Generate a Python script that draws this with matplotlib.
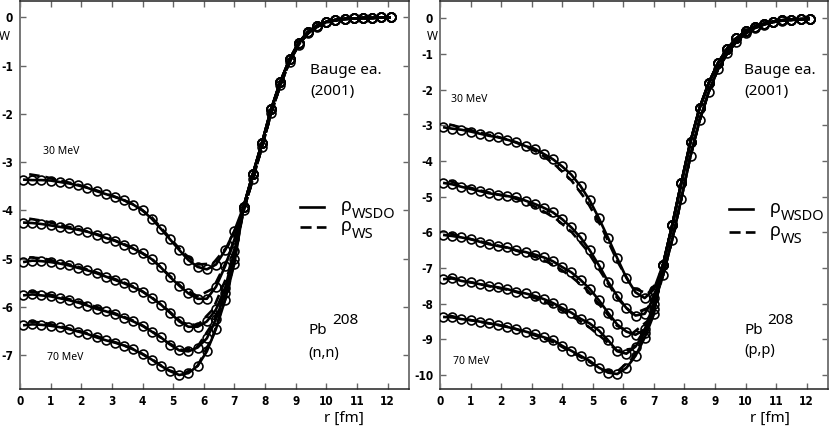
import matplotlib
matplotlib.use("Agg")
import matplotlib.pyplot as plt

plt.rcParams['axes.unicode_minus'] = False
plt.rcParams['font.family'] = ['Noto Sans', 'DejaVu Sans']

# ---------------- data ----------------
r_pts = [0.1, 0.4, 0.7, 1.0, 1.3, 1.6, 1.9, 2.2, 2.5, 2.8, 3.1, 3.4, 3.7, 4.0,
         4.3, 4.6, 4.9, 5.2, 5.5, 5.8, 6.1, 6.4, 6.7, 7.0]
r_tail = [7.3, 7.6, 7.9, 8.2, 8.5, 8.8, 9.1, 9.4, 9.7, 10.0, 10.3, 10.6, 10.9,
          11.2, 11.5, 11.8, 12.1]
r_dash = [0.3, 0.8, 1.3, 1.8, 2.3, 2.8, 3.3, 3.8, 4.3, 4.8, 5.3, 5.8, 6.3, 6.8]

# (n,n) rho_WSDO (solid line + circles), energies 30..70 MeV
W_nn_30 = [-3.36, -3.37, -3.37, -3.38, -3.41, -3.44, -3.48, -3.53, -3.60, -3.66, -3.72, -3.79,
           -3.88, -4.00, -4.17, -4.38, -4.60, -4.82, -5.03, -5.17, -5.22, -5.12, -4.82, -4.42]
W_nn_40 = [-4.25, -4.26, -4.28, -4.31, -4.34, -4.37, -4.40, -4.44, -4.50, -4.57, -4.63, -4.71,
           -4.79, -4.89, -5.01, -5.18, -5.38, -5.56, -5.72, -5.83, -5.83, -5.58, -5.15, -4.60]
W_nn_50 = [-5.07, -5.04, -5.05, -5.07, -5.10, -5.14, -5.19, -5.24, -5.30, -5.37, -5.44, -5.51,
           -5.59, -5.68, -5.81, -5.95, -6.12, -6.30, -6.41, -6.41, -6.30, -6.05, -5.60, -4.85]
W_nn_60 = [-5.76, -5.74, -5.76, -5.78, -5.82, -5.86, -5.91, -5.97, -6.04, -6.09, -6.15, -6.22,
           -6.30, -6.39, -6.51, -6.63, -6.78, -6.90, -6.92, -6.84, -6.65, -6.25, -5.70, -5.00]
W_nn_70 = [-6.38, -6.36, -6.37, -6.39, -6.42, -6.46, -6.51, -6.56, -6.63, -6.69, -6.74, -6.80,
           -6.88, -6.98, -7.09, -7.22, -7.33, -7.41, -7.37, -7.22, -6.92, -6.45, -5.85, -5.10]
W_nn_tail = [-3.92, -3.25, -2.60, -1.90, -1.33, -0.87, -0.52, -0.30, -0.17, -0.09, -0.05,
             -0.03, -0.02, -0.01, -0.01, 0.0, 0.0]
# (n,n) rho_WS (dashed)
Wd_nn_30 = [-3.25, -3.30, -3.38, -3.45, -3.54, -3.65, -3.76, -3.90, -4.14, -4.50, -4.86, -5.12, -5.10, -4.72]
Wd_nn_40 = [-4.17, -4.22, -4.30, -4.37, -4.45, -4.55, -4.67, -4.81, -5.00, -5.30, -5.60, -5.78, -5.62, -4.98]
Wd_nn_50 = [-4.97, -5.00, -5.07, -5.15, -5.24, -5.35, -5.47, -5.60, -5.80, -6.05, -6.33, -6.38, -6.05, -5.30]
Wd_nn_60 = [-5.68, -5.72, -5.79, -5.87, -5.96, -6.06, -6.18, -6.31, -6.50, -6.73, -6.90, -6.82, -6.33, -5.50]
Wd_nn_70 = [-6.30, -6.33, -6.40, -6.48, -6.56, -6.67, -6.77, -6.90, -7.08, -7.30, -7.40, -7.22, -6.60, -5.65]
Wd_nn_tail = [-4.00, -3.35, -2.68, -1.98, -1.40, -0.92, -0.56, -0.33, -0.19, -0.10, -0.06,
              -0.03, -0.02, -0.01, -0.01, 0.0, 0.0]

# (p,p) rho_WSDO
W_pp_30 = [-3.05, -3.09, -3.12, -3.17, -3.23, -3.29, -3.33, -3.40, -3.47, -3.58, -3.65, -3.80,
           -3.95, -4.15, -4.38, -4.70, -5.10, -5.60, -6.15, -6.72, -7.27, -7.68, -7.84, -7.60]
W_pp_40 = [-4.61, -4.65, -4.72, -4.78, -4.84, -4.90, -4.94, -4.98, -5.02, -5.11, -5.20, -5.31,
           -5.44, -5.63, -5.86, -6.14, -6.50, -6.92, -7.38, -7.78, -8.12, -8.33, -8.28, -7.85]
W_pp_50 = [-6.07, -6.10, -6.14, -6.19, -6.26, -6.33, -6.38, -6.42, -6.50, -6.55, -6.62, -6.70,
           -6.81, -6.97, -7.12, -7.33, -7.58, -7.90, -8.25, -8.58, -8.78, -8.87, -8.72, -8.00]
W_pp_60 = [-7.31, -7.29, -7.36, -7.40, -7.45, -7.50, -7.54, -7.59, -7.66, -7.71, -7.78, -7.87,
           -7.98, -8.12, -8.25, -8.42, -8.55, -8.75, -9.02, -9.33, -9.40, -9.20, -8.82, -8.15]
W_pp_70 = [-8.37, -8.38, -8.43, -8.46, -8.50, -8.55, -8.59, -8.65, -8.71, -8.78, -8.85, -8.94,
           -9.02, -9.18, -9.32, -9.46, -9.60, -9.79, -9.93, -9.97, -9.80, -9.46, -8.95, -8.30]
W_pp_tail = [-6.90, -5.80, -4.60, -3.45, -2.50, -1.80, -1.25, -0.85, -0.56, -0.36, -0.23,
             -0.15, -0.09, -0.05, -0.03, -0.02, -0.01]
# (p,p) rho_WS
Wd_pp_30 = [-2.97, -3.08, -3.20, -3.30, -3.42, -3.58, -3.80, -4.13, -4.54, -5.11, -5.87, -6.80, -7.55, -7.72]
Wd_pp_40 = [-4.55, -4.70, -4.82, -4.92, -5.00, -5.15, -5.36, -5.62, -5.98, -6.49, -7.16, -7.84, -8.29, -8.12]
Wd_pp_50 = [-6.02, -6.14, -6.25, -6.35, -6.45, -6.60, -6.74, -6.95, -7.24, -7.60, -8.11, -8.62, -8.83, -8.48]
Wd_pp_60 = [-7.25, -7.36, -7.45, -7.54, -7.62, -7.75, -7.90, -8.09, -8.34, -8.60, -8.95, -9.32, -9.26, -8.60]
Wd_pp_70 = [-8.33, -8.43, -8.50, -8.58, -8.66, -8.80, -8.94, -9.11, -9.36, -9.58, -9.85, -9.90, -9.53, -8.72]
Wd_pp_tail = [-7.20, -6.20, -5.05, -3.85, -2.85, -2.05, -1.42, -0.98, -0.65, -0.42, -0.27,
              -0.17, -0.10, -0.06, -0.04, -0.02, -0.01]

x_ticks = [0, 1, 2, 3, 4, 5, 6, 7, 8, 9, 10, 11, 12]
y_ticks_nn = [0, -1, -2, -3, -4, -5, -6, -7]
y_ticks_pp = [0, -1, -2, -3, -4, -5, -6, -7, -8, -9, -10]

# ---------------- figure ----------------
W, H = 830, 428
fig = plt.figure(figsize=(W / 100, H / 100), dpi=100)


def fx(px):
    return px / W


def fy(py):
    return 1 - py / H


ax1 = fig.add_axes([fx(20), fy(389), fx(409) - fx(20), fy(0.5) - fy(389)])
ax2 = fig.add_axes([fx(440), fy(389), fx(828) - fx(440), fy(0.5) - fy(389)])

tick_font = dict(family='DejaVu Sans', stretch='condensed', size=8.5, weight='bold')


def draw(ax, solids, dashes, tail, dtail, ylim, yticks):
    for ws, wd in zip(solids, dashes):
        ax.plot(r_pts + r_tail, ws + tail, '-', color='black', lw=1.9, zorder=3,
                solid_capstyle='butt')
        ax.plot(r_dash + r_tail, wd + dtail, '--', color='black', lw=1.9,
                dashes=(4.0, 2.2), zorder=3)
        ax.plot(r_pts + r_tail, ws + tail, 'o', mfc='none', mec='black', ms=6.4,
                mew=1.2, zorder=4)
    ax.plot(r_tail, dtail, 'o', mfc='none', mec='black', ms=6.4, mew=1.2, zorder=4)
    ax.set_xlim(0, 12.7)
    ax.set_ylim(*ylim)
    ax.set_xticks(x_ticks)
    ax.set_yticks(yticks)
    ax.set_xticklabels([str(t) for t in x_ticks], fontdict=tick_font)
    ax.set_yticklabels([str(t) for t in yticks], fontdict=tick_font)
    ax.tick_params(direction='in', length=4, width=1.0, color='#666666',
                   top=True, right=True, pad=4)
    ax.tick_params(axis='y', pad=5)
    for s in ('left', 'right'):
        ax.spines[s].set_color('#777777')
        ax.spines[s].set_linewidth(1.4)
    for s in ('top', 'bottom'):
        ax.spines[s].set_color('#222222')
        ax.spines[s].set_linewidth(1.1)


draw(ax1, [W_nn_30, W_nn_40, W_nn_50, W_nn_60, W_nn_70],
     [Wd_nn_30, Wd_nn_40, Wd_nn_50, Wd_nn_60, Wd_nn_70],
     W_nn_tail, Wd_nn_tail, (-7.70, 0.352), y_ticks_nn)
draw(ax2, [W_pp_30, W_pp_40, W_pp_50, W_pp_60, W_pp_70],
     [Wd_pp_30, Wd_pp_40, Wd_pp_50, Wd_pp_60, Wd_pp_70],
     W_pp_tail, Wd_pp_tail, (-10.39, 0.504), y_ticks_pp)

# ---------------- annotations ----------------
lab = dict(color='black', family='Noto Sans')

fig.text(fx(4), fy(37), 'W', ha='center', va='center', size=8.5, **lab)
fig.text(fx(432), fy(37), 'W', ha='center', va='center', size=8.5, **lab)

fig.text(fx(310), fy(70), 'Bauge ea.', ha='left', va='center', size=11, **lab)
fig.text(fx(310), fy(91), '(2001)', ha='left', va='center', size=11, **lab)
fig.text(fx(744), fy(70), 'Bauge ea.', ha='left', va='center', size=11, **lab)
fig.text(fx(744), fy(91), '(2001)', ha='left', va='center', size=11, **lab)

fig.text(fx(43), fy(151), '30 MeV', ha='left', va='center', size=7.5, **lab)
fig.text(fx(47), fy(358), '70 MeV', ha='left', va='center', size=7.5, **lab)
fig.text(fx(451), fy(99), '30 MeV', ha='left', va='center', size=7.5, **lab)
fig.text(fx(453), fy(361), '70 MeV', ha='left', va='center', size=7.5, **lab)

fig.text(fx(308), fy(331), 'Pb', ha='left', va='center', size=11, **lab)
fig.text(fx(332), fy(320), '208', ha='left', va='center', size=11, **lab)
fig.text(fx(308), fy(353), '(n,n)', ha='left', va='center', size=10.5, **lab)
fig.text(fx(744), fy(331), 'Pb', ha='left', va='center', size=11, **lab)
fig.text(fx(767), fy(320), '208', ha='left', va='center', size=11, **lab)
fig.text(fx(744), fy(351), '(p,p)', ha='left', va='center', size=10.5, **lab)

fig.text(fx(344), fy(418), 'r [fm]', ha='center', va='center', size=11, **lab)
fig.text(fx(770), fy(418), 'r [fm]', ha='center', va='center', size=11, **lab)

# legends (drawn manually)
for (x0, ys, yd) in ((300, 207, 227), (729, 209, 232)):
    fig.add_artist(plt.Line2D([fx(x0), fx(x0 + 24)], [fy(ys), fy(ys)], color='black',
                              lw=1.9, transform=fig.transFigure))
    fig.add_artist(plt.Line2D([fx(x0), fx(x0 + 26)], [fy(yd), fy(yd)], color='black',
                              lw=1.9, ls='--', dashes=(4.2, 2.0), transform=fig.transFigure))
    fig.text(fx(x0 + 41), fy(ys - 1), 'ρ', ha='left', va='center', size=13, **lab)
    fig.text(fx(x0 + 52), fy(ys + 8), 'WSDO', ha='left', va='center', size=10.5, **lab)
    fig.text(fx(x0 + 41), fy(yd - 1), 'ρ', ha='left', va='center', size=13, **lab)
    fig.text(fx(x0 + 52), fy(yd + 8), 'WS', ha='left', va='center', size=10.5, **lab)

fig.savefig('out.png', dpi=100)
